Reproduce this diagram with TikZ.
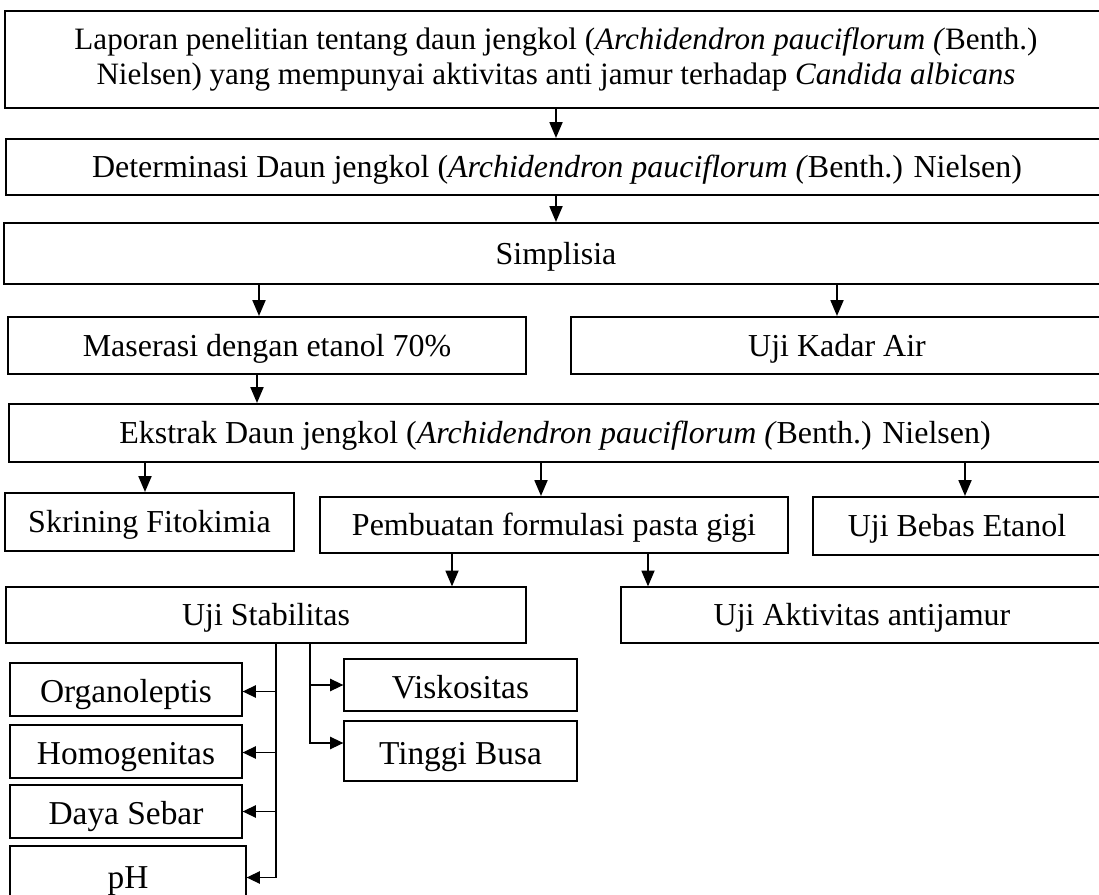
\documentclass[tikz,border=0pt]{standalone}
\usepackage{fontspec}
\setmainfont{Liberation Serif}
\usetikzlibrary{arrows.meta}

\tikzset{
  box/.style={draw, line width=1.25pt, inner sep=0pt, align=center,
    font=\fontsize{18.2}{20.5}\selectfont, text height=16.5pt, text depth=4pt},
  thinbox/.style={box, line width=0.75pt},
  smallbox/.style={thinbox, font=\fontsize{19}{21}\selectfont, text height=19pt, text depth=4pt},
  arr/.style={line width=0.7pt, -{Triangle[length=9pt,width=7.5pt]}},
  sarr/.style={line width=0.7pt, -{Triangle[length=7.5pt,width=7pt]}},
  line/.style={line width=0.7pt}
}

\begin{document}
\begin{tikzpicture}[x=0.02cm, y=-0.02cm]
\useasboundingbox (0,0) rectangle (1099,895);

% main chain
\node[box, text height=, text depth=, font=\fontsize{17.7}{20.5}\selectfont,
      minimum width=1102*0.02cm, minimum height=97*0.02cm] (top) at (556,59.5)
  {Laporan penelitian tentang daun jengkol (\textit{Archidendron pauciflorum (}Benth.)\\[-0.5pt]
   Nielsen) yang mempunyai aktivitas anti jamur terhadap \textit{Candida albicans}};
\node[box, minimum width=1102*0.02cm, minimum height=56*0.02cm] (det) at (557,167)
  {Determinasi Daun jengkol (\textit{Archidendron pauciflorum (}Benth.) Nielsen)};
\node[box, minimum width=1104*0.02cm, minimum height=61*0.02cm] (simp) at (556,253.5)
  {Simplisia};
\node[box, minimum width=518*0.02cm, minimum height=57*0.02cm] (mas) at (267,345.5)
  {Maserasi dengan etanol 70\%};
\node[box, minimum width=532*0.02cm, minimum height=57*0.02cm] (kadar) at (837,345.5)
  {Uji Kadar Air};
\node[box, minimum width=1092*0.02cm, minimum height=58*0.02cm] (ekstrak) at (555,433)
  {Ekstrak Daun jengkol (\textit{Archidendron pauciflorum (}Benth.) Nielsen)};
\node[box, minimum width=289*0.02cm, minimum height=58*0.02cm] (skrin) at (149.5,522)
  {Skrining Fitokimia};
\node[box, minimum width=468*0.02cm, minimum height=56*0.02cm] (pemb) at (554,525)
  {Pembuatan formulasi pasta gigi};
\node[box, minimum width=288*0.02cm, minimum height=58*0.02cm] (bebas) at (957,526)
  {Uji Bebas Etanol};

% tests
\node[thinbox, minimum width=520*0.02cm, minimum height=56*0.02cm] (stab) at (266,615)
  {Uji Stabilitas};
\node[thinbox, minimum width=482*0.02cm, minimum height=56*0.02cm] (aktiv) at (862,615)
  {Uji Aktivitas antijamur};
\node[smallbox, minimum width=232*0.02cm, minimum height=53*0.02cm] (organo) at (126,689.5)
  {Organoleptis};
\node[smallbox, minimum width=232*0.02cm, minimum height=53*0.02cm] (homo) at (126,751.5)
  {Homogenitas};
\node[smallbox, minimum width=232*0.02cm, minimum height=53*0.02cm] (daya) at (126,811.5)
  {Daya Sebar};
\node[smallbox, minimum width=236*0.02cm, minimum height=59*0.02cm] (ph) at (128,875.5)
  {pH};
\node[smallbox, minimum width=233*0.02cm, minimum height=52*0.02cm] (visko) at (460.5,685)
  {Viskositas};
\node[smallbox, minimum width=233*0.02cm, minimum height=60*0.02cm] (tinggi) at (460.5,751)
  {Tinggi Busa};

% connectors of the main chain
\draw[arr] (top.south -| 556,0) -- (det.north -| 556,0);
\draw[arr] (det.south -| 556,0) -- (simp.north -| 556,0);
\draw[arr] (simp.south -| 259,0) -- (mas.north -| 259,0);
\draw[arr] (simp.south -| kadar.north) -- (kadar.north);
\draw[arr] (mas.south -| 257,0) -- (ekstrak.north -| 257,0);
\draw[arr] (ekstrak.south -| 145,0) -- (skrin.north -| 145,0);
\draw[arr] (ekstrak.south -| 541,0) -- (pemb.north -| 541,0);
\draw[arr] (ekstrak.south -| 965,0) -- (bebas.north -| 965,0);
\draw[arr] (pemb.south -| 452,0) -- (stab.north -| 452,0);
\draw[arr] (pemb.south -| 648,0) -- (aktiv.north -| 648,0);

% stability branches
\coordinate (trunkL) at (stab.south -| 276,0);
\coordinate (trunkR) at (stab.south -| 310,0);
\draw[line] (trunkL) -- ([yshift=-0.04cm]trunkL |- ph.east);
\draw[sarr] ([yshift=-0.04cm]trunkL |- organo.east) -- ([yshift=-0.04cm]organo.east);
\draw[sarr] ([yshift=-0.02cm]trunkL |- homo.east) -- ([yshift=-0.02cm]homo.east);
\draw[sarr] (trunkL |- daya.east) -- (daya.east);
\draw[sarr] ([yshift=-0.04cm]trunkL |- ph.east) -- ([yshift=-0.04cm]ph.east);
\draw[sarr] (trunkR) |- (visko.west);
\draw[sarr] (trunkR) |- ([yshift=0.16cm]tinggi.west);
\end{tikzpicture}
\end{document}
